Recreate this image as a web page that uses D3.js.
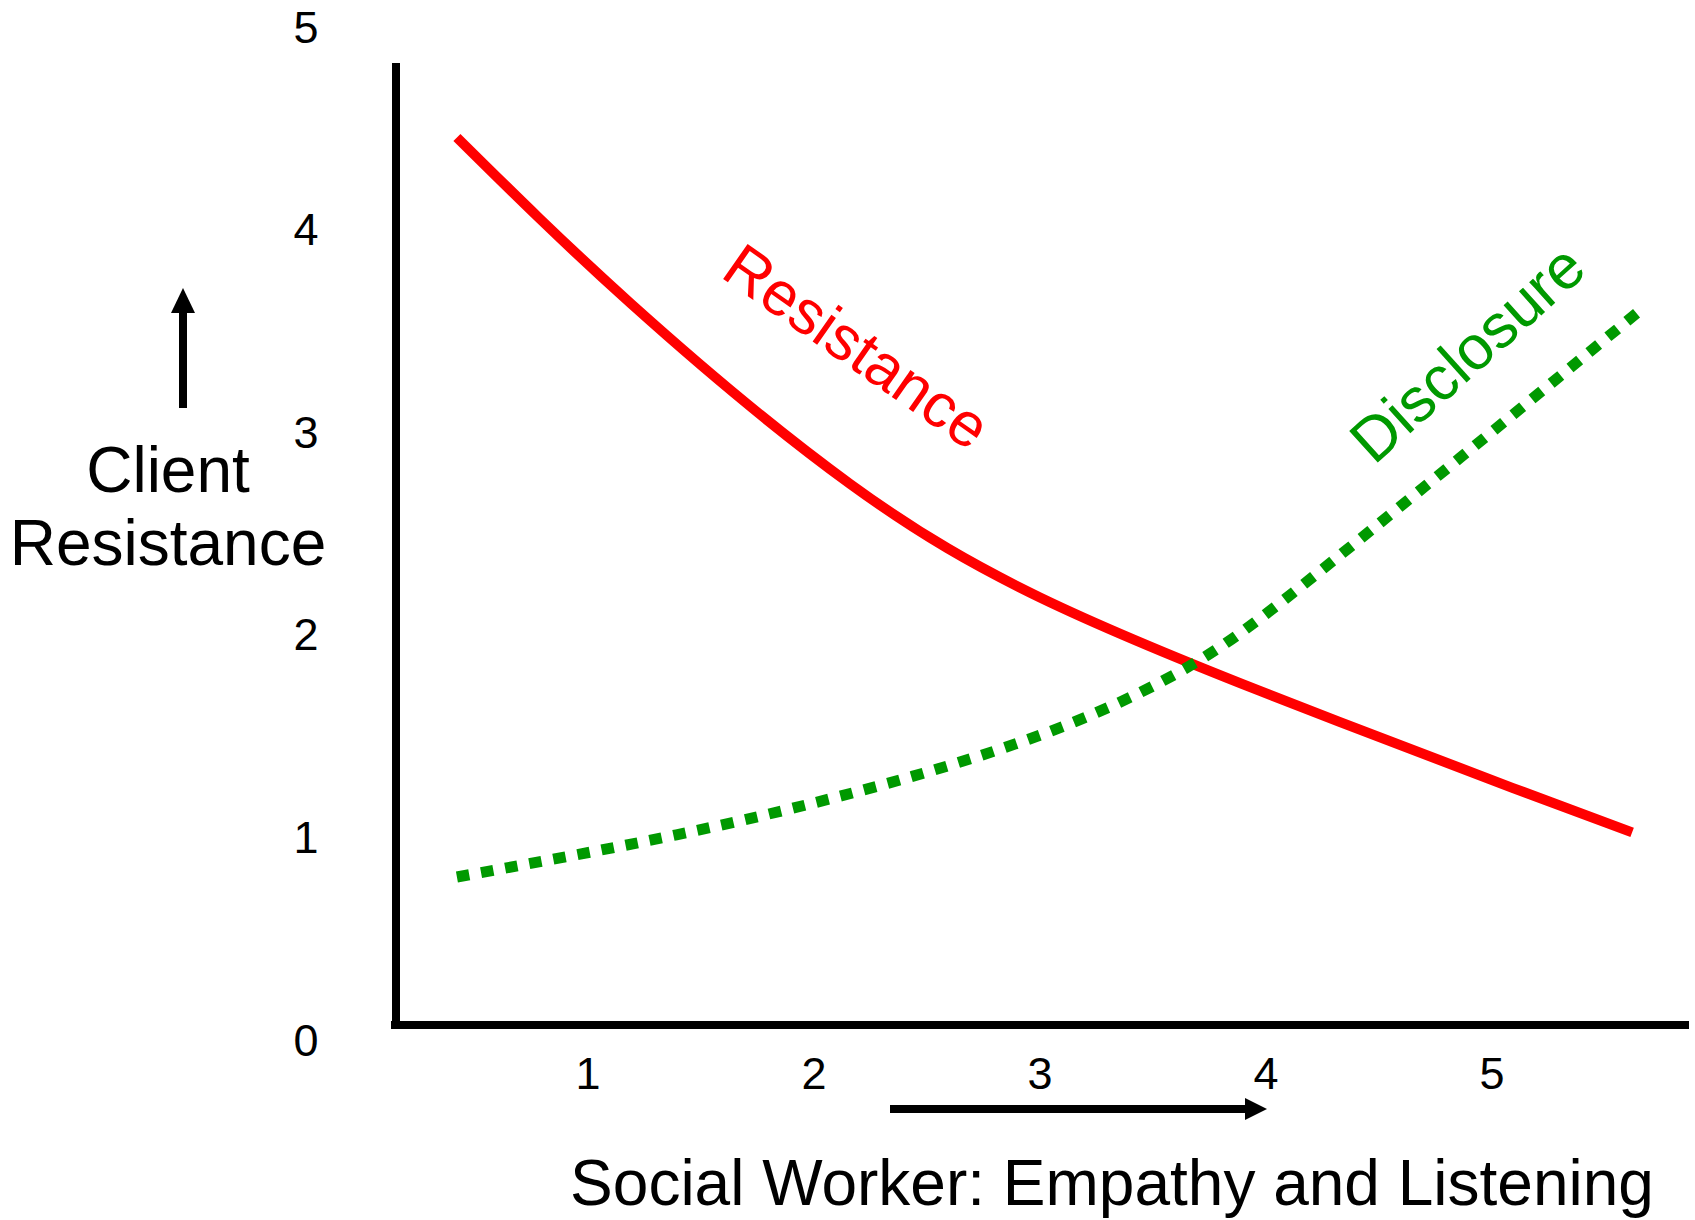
<!DOCTYPE html>
<html>
<head>
<meta charset="utf-8">
<script src="https://cdn.jsdelivr.net/npm/d3@7"></script>
<style>
  body { margin: 0; background: #fff; }
  text { font-family: "Liberation Sans", Arial, sans-serif; }
</style>
</head>
<body>
<div id="chart-container"></div>
<script>
const svgWidth = 1695;
const svgHeight = 1220;

// tick labels
const xTicks = [1, 2, 3, 4, 5];
const yTicks = [0, 1, 2, 3, 4, 5];

// Resistance curve (solid red)
const resistanceX = [0.42, 1.19, 2.16, 3.0, 3.97, 5.09, 5.62];
const resistanceY = [4.43, 3.61, 2.72, 2.16, 1.70, 1.22, 1.00];

// Disclosure curve (dotted green)
const disclosureX = [0.42, 1.27, 2.12, 3.0, 3.66, 4.15, 4.86, 5.67];
const disclosureY = [0.78, 0.96, 1.18, 1.48, 1.82, 2.21, 2.85, 3.59];

const xTitle = "Social Worker: Empathy and Listening";
const yTitle = ["Client", "Resistance"];

const svg = d3.select("#chart-container")
    .append("svg")
    .attr("width", svgWidth)
    .attr("height", svgHeight)
    .attr("viewBox", [0, 0, svgWidth, svgHeight]);

const xScale = d3.scaleLinear()
    .domain([0, 5])
    .range([362, 1492]);

const yScale = d3.scaleLinear()
    .domain([0, 5])
    .range([1035, 22]);

// axis frame
const axisLeftX = 396;
const axisBottomY = 1025;

svg.append("line")
    .attr("x1", axisLeftX).attr("x2", axisLeftX)
    .attr("y1", 63).attr("y2", axisBottomY + 4)
    .attr("stroke", "#000")
    .attr("stroke-width", 8);

svg.append("line")
    .attr("x1", axisLeftX - 5).attr("x2", 1689)
    .attr("y1", axisBottomY).attr("y2", axisBottomY)
    .attr("stroke", "#000")
    .attr("stroke-width", 8);

// tick labels
svg.append("g")
    .selectAll("text")
    .data(xTicks)
    .join("text")
    .attr("x", d => xScale(d))
    .attr("y", 1073)
    .attr("text-anchor", "middle")
    .attr("dominant-baseline", "central")
    .attr("font-size", 45)
    .text(d => d);

svg.append("g")
    .selectAll("text")
    .data(yTicks)
    .join("text")
    .attr("x", 306)
    .attr("y", d => yScale(d) + 5)
    .attr("text-anchor", "middle")
    .attr("dominant-baseline", "central")
    .attr("font-size", 45)
    .text(d => d);

// curves
const line = d3.line()
    .x(d => xScale(d[0]))
    .y(d => yScale(d[1]))
    .curve(d3.curveNatural);

svg.append("path")
    .datum(d3.zip(resistanceX, resistanceY))
    .attr("d", line)
    .attr("fill", "none")
    .attr("stroke", "#ff0000")
    .attr("stroke-width", 10);

svg.append("path")
    .datum(d3.zip(disclosureX, disclosureY))
    .attr("d", line)
    .attr("fill", "none")
    .attr("stroke", "#009900")
    .attr("stroke-width", 11)
    .attr("stroke-dasharray", "12.5,12");

// curve labels
svg.append("text")
    .attr("transform", "translate(719,276) rotate(35)")
    .attr("font-size", 62)
    .attr("fill", "#ff0000")
    .text("Resistance");

svg.append("text")
    .attr("transform", "translate(1374,466) rotate(-42)")
    .attr("font-size", 62)
    .attr("fill", "#009900")
    .text("Disclosure");

// axis titles
svg.append("text")
    .attr("x", 1112)
    .attr("y", 1205)
    .attr("text-anchor", "middle")
    .attr("font-size", 64)
    .text(xTitle);

svg.append("g")
    .selectAll("text")
    .data(yTitle)
    .join("text")
    .attr("x", 168)
    .attr("y", (d, i) => 492 + i * 73)
    .attr("text-anchor", "middle")
    .attr("font-size", 64)
    .text(d => d);

// direction arrows
svg.append("line")
    .attr("x1", 183).attr("x2", 183)
    .attr("y1", 408).attr("y2", 310)
    .attr("stroke", "#000")
    .attr("stroke-width", 8);

svg.append("path")
    .attr("d", "M183,288 L195,313 L171,313 Z")
    .attr("fill", "#000");

svg.append("line")
    .attr("x1", 890).attr("x2", 1247)
    .attr("y1", 1109).attr("y2", 1109)
    .attr("stroke", "#000")
    .attr("stroke-width", 8);

svg.append("path")
    .attr("d", "M1267,1109 L1245,1098 L1245,1120 Z")
    .attr("fill", "#000");
</script>
</body>
</html>
